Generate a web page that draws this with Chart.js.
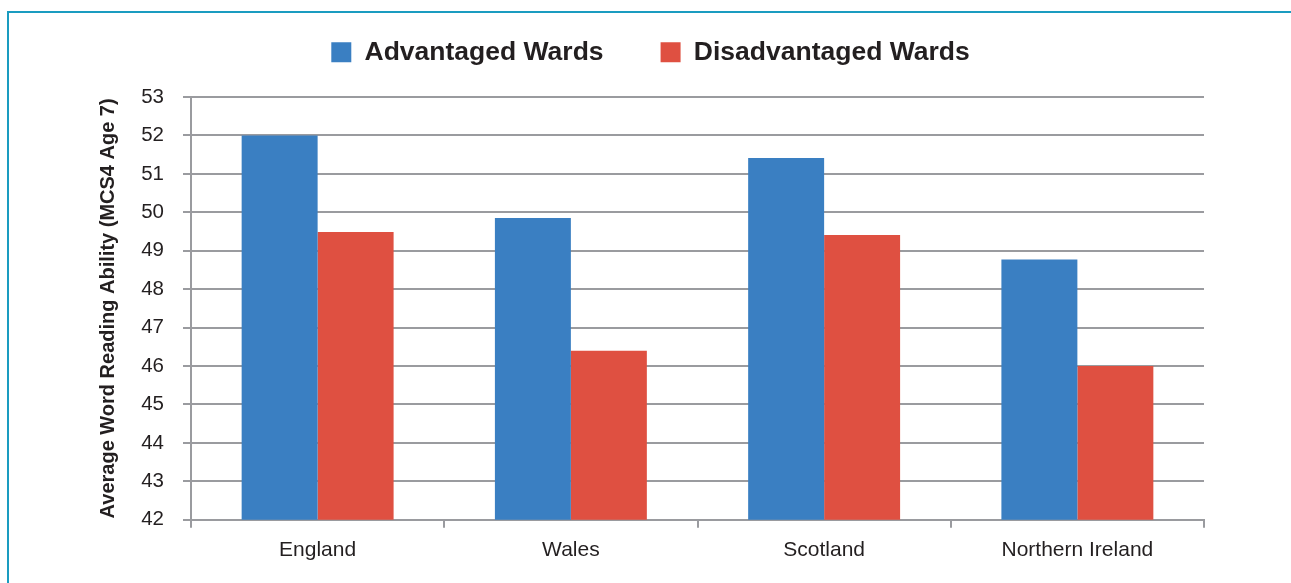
<!DOCTYPE html>
<html>
<head>
<meta charset="utf-8">
<script src="https://cdn.jsdelivr.net/npm/chart.js@4/dist/chart.umd.min.js"></script>
<style>
  html, body { margin: 0; padding: 0; background: #fff; }
  #frame {
    position: absolute; left: 7px; top: 11px; right: 0; bottom: 0;
    border-left: 2px solid #1a9cc0; border-top: 2px solid #1a9cc0;
  }
  #wrap { position: absolute; left: 9px; top: 13px; width: 1282px; height: 570px; }
</style>
</head>
<body>
<div id="frame"></div>
<div id="wrap"><canvas id="chart"></canvas></div>
<script>
const countries = ['England', 'Wales', 'Scotland', 'Northern Ireland'];
const advantaged = [52.0, 49.85, 51.41, 48.77];
const disadvantaged = [49.49, 46.4, 49.41, 46.0];
const yTitle = 'Average Word Reading Ability (MCS4 Age 7)';

const GRID = '#9a9b9f';
const TEXT = '#231f20';

// legend needs wide gaps between items but only a short box
const legendTweak = {
  id: 'legendTweak',
  beforeInit(chart) {
    const legend = chart.legend;
    const fit = legend.fit;
    legend.fit = function () {
      fit.call(this);
      this.height = 84;
    };
    const draw = legend.draw;
    legend.draw = function () {
      chart.ctx.save();
      chart.ctx.translate(2, -31);
      draw.call(this);
      chart.ctx.restore();
    };
  }
};

new Chart(document.getElementById('chart'), {
  type: 'bar',
  data: {
    labels: countries,
    datasets: [
      {
        label: 'Advantaged Wards',
        data: advantaged,
        backgroundColor: '#3a7fc2',
        categoryPercentage: 0.6,
        barPercentage: 1.0
      },
      {
        label: 'Disadvantaged Wards',
        data: disadvantaged,
        backgroundColor: '#df5041',
        categoryPercentage: 0.6,
        barPercentage: 1.0
      }
    ]
  },
  options: {
    responsive: true,
    maintainAspectRatio: false,
    animation: false,
    layout: { padding: { left: 84, right: 87, top: 0, bottom: 10 } },
    plugins: {
      tooltip: { enabled: false },
      legend: {
        position: 'top',
        labels: {
          boxWidth: 20,
          boxHeight: 20,
          padding: 57,
          color: TEXT,
          font: { family: '"Liberation Sans", Arial, sans-serif', size: 26.5, weight: 'bold' }
        }
      }
    },
    scales: {
      x: {
        grid: {
          offset: true,
          drawOnChartArea: false,
          drawTicks: true,
          tickLength: 8,
          color: GRID,
          lineWidth: 2
        },
        border: { display: true, color: GRID, width: 2 },
        ticks: {
          color: TEXT,
          padding: 10,
          font: { family: '"Liberation Sans", Arial, sans-serif', size: 21 }
        }
      },
      y: {
        min: 42,
        max: 53,
        afterFit(scale) { scale.width = 98; },
        grid: { color: GRID, lineWidth: 2, tickLength: 8 },
        border: { display: true, color: GRID, width: 2 },
        ticks: {
          stepSize: 1,
          color: TEXT,
          padding: 19,
          font: { family: '"Liberation Sans", Arial, sans-serif', size: 20.5 }
        },
        title: {
          display: true,
          text: yTitle,
          color: TEXT,
          padding: { top: 3, bottom: 0 },
          font: { family: '"Liberation Sans", Arial, sans-serif', size: 20, weight: 'bold' }
        }
      }
    }
  },
  plugins: [legendTweak]
});
</script>
</body>
</html>
